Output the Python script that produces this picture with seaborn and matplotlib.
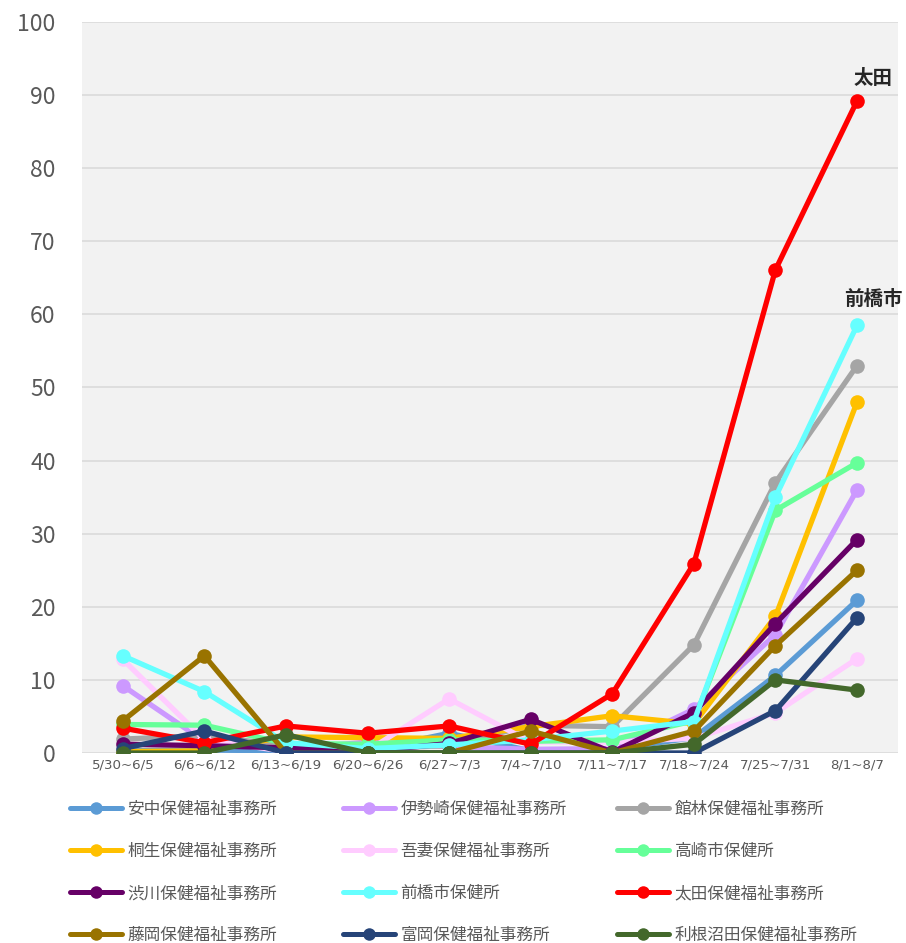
import pandas as pd
import seaborn as sns
import matplotlib.pyplot as plt
from matplotlib.lines import Line2D

# 週ごとの区分
weeks = ['5/30~6/5', '6/6~6/12', '6/13~6/19', '6/20~6/26', '6/27~7/3',
         '7/4~7/10', '7/11~7/17', '7/18~7/24', '7/25~7/31', '8/1~8/7']

offices = ['安中保健福祉事務所', '伊勢崎保健福祉事務所', '館林保健福祉事務所',
           '桐生保健福祉事務所', '吾妻保健福祉事務所', '高崎市保健所',
           '渋川保健福祉事務所', '前橋市保健所', '太田保健福祉事務所',
           '藤岡保健福祉事務所', '富岡保健福祉事務所', '利根沼田保健福祉事務所']

colors = ['#5b9bd5', '#cc99ff', '#a5a5a5', '#ffc000', '#ffccff', '#66ff99',
          '#660066', '#66ffff', '#ff0000', '#997300', '#264478', '#43682b']

annaka    = [0.3, 0.4, 0.3, 0.4, 2.7, 0.3, 0.5, 2.1, 10.6, 20.9]
isesaki   = [9.2, 1.6, 0.5, 1.5, 0.9, 0.5, 0.6, 6.0, 16.2, 36.0]
tatebayashi = [1.9, 2.4, 1.0, 0.6, 1.0, 3.8, 3.6, 14.8, 37.0, 53.0]
kiryu     = [0.2, 0.3, 2.2, 2.1, 2.0, 3.6, 5.1, 4.0, 18.7, 48.0]
agatsuma  = [12.8, 1.8, 0.2, 0.3, 7.4, 1.5, 1.5, 2.0, 5.5, 12.9]
takasaki  = [3.9, 3.8, 1.3, 1.2, 1.8, 1.6, 1.8, 4.4, 33.2, 39.7]
shibukawa = [1.2, 1.0, 0.7, 0.2, 1.3, 4.6, 0.1, 5.5, 17.7, 29.2]
maebashi  = [13.3, 8.4, 1.4, 0.6, 1.1, 1.8, 3.0, 4.3, 35.0, 58.5]
ota       = [3.4, 1.4, 3.7, 2.7, 3.7, 1.2, 8.1, 25.9, 66.1, 89.2]
fujioka   = [4.4, 13.3, 0.0, 0.0, 0.0, 3.0, 0.0, 3.0, 14.7, 25.0]
tomioka   = [0.6, 3.0, 0.0, 0.0, 0.0, 0.0, 0.0, 0.0, 5.8, 18.5]
tonenumata = [0.0, 0.0, 2.5, 0.0, 0.0, 0.0, 0.0, 1.2, 10.0, 8.6]

series = [annaka, isesaki, tatebayashi, kiryu, agatsuma, takasaki,
          shibukawa, maebashi, ota, fujioka, tomioka, tonenumata]

rows = []
for name, vals in zip(offices, series):
    for w, v in zip(weeks, vals):
        rows.append({'週': w, '値': v, '保健所': name})
df = pd.DataFrame(rows)

sns.set_theme(style='white')
plt.rcParams['font.family'] = ['Noto Sans CJK JP', 'DejaVu Sans']

fig = plt.figure(figsize=(9.06, 9.43), dpi=100)
ax = fig.add_axes([0.0905, 0.2015, 0.9005, 0.7752])
ax.set_facecolor('#f2f2f2')

sns.lineplot(data=df, x='週', y='値', hue='保健所', hue_order=offices,
             palette=colors, marker='o', markersize=10.5, markeredgewidth=0,
             linewidth=3.8, legend=False, sort=False, ax=ax)

ax.set_xlim(-0.5, len(weeks) - 0.5)
ax.set_ylim(0, 100)
ax.set_yticks(range(0, 101, 10))
ax.set_xlabel('')
ax.set_ylabel('')
ax.grid(axis='y', color='#d9d9d9', linewidth=1.1)
ax.set_axisbelow(True)
for s in ax.spines.values():
    s.set_visible(False)
ax.tick_params(axis='y', labelsize=16.5, labelcolor='#595959', length=0, pad=19)
ax.tick_params(axis='x', labelsize=9.6, labelcolor='#595959', length=0, pad=4)
for t in ax.get_xticklabels():
    t.set_family(['Liberation Sans Narrow', 'DejaVu Sans'])

# ラベル
ax.text(9.2, 91.0, '太田', ha='center', va='bottom', fontsize=14, fontweight='bold')
ax.text(9.2, 60.8, '前橋市', ha='center', va='bottom', fontsize=14, fontweight='bold')

# 凡例 (3列、等間隔)
handles = [Line2D([], [], color=c, linewidth=3.6, marker='o', markersize=9,
                  markeredgewidth=0) for c in colors]
col_x = [70 / 906, 343 / 906, 617 / 906]
for ci in range(3):
    idx = [ci, ci + 3, ci + 6, ci + 9]
    leg = fig.legend([handles[i] for i in idx], [offices[i] for i in idx],
                     loc='upper left', bbox_to_anchor=(col_x[ci], 1 - 801 / 943),
                     frameon=False, fontsize=12, handlelength=3.1,
                     handletextpad=0.35, labelspacing=1.5, borderpad=0,
                     borderaxespad=0)
    for t in leg.get_texts():
        t.set_color('#595959')

fig.savefig('out.png', dpi=100)
